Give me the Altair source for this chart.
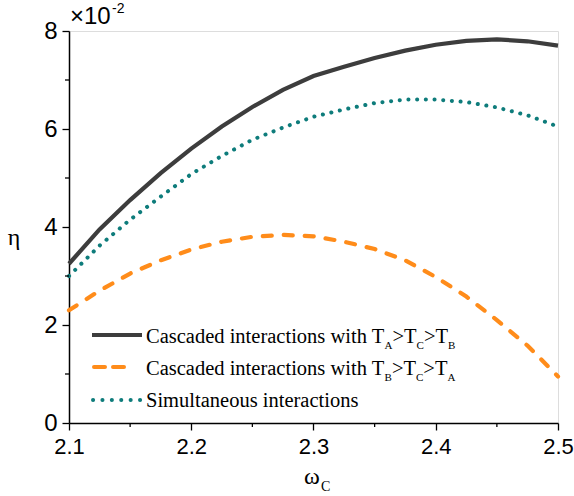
import altair as alt
import pandas as pd

# ---------------- data ----------------
omega = [2.100, 2.125, 2.150, 2.175, 2.200, 2.225, 2.250, 2.275, 2.300,
         2.325, 2.350, 2.375, 2.400, 2.425, 2.450, 2.475, 2.500]
# eta values in units of 1e-2
eta_cascade_ACB = [3.25, 3.95, 4.55, 5.10, 5.60, 6.05, 6.45, 6.80, 7.08,
                   7.27, 7.45, 7.60, 7.72, 7.80, 7.83, 7.79, 7.70]
eta_cascade_BCA = [2.30, 2.70, 3.05, 3.32, 3.54, 3.70, 3.80, 3.84, 3.81,
                   3.70, 3.55, 3.32, 2.98, 2.58, 2.10, 1.58, 0.95]
eta_simultaneous = [3.00, 3.62, 4.15, 4.62, 5.08, 5.45, 5.78, 6.03, 6.25,
                    6.40, 6.53, 6.60, 6.60, 6.55, 6.44, 6.28, 6.05]

x_major = [2.1, 2.2, 2.3, 2.4, 2.5]
x_minor = [2.15, 2.25, 2.35, 2.45]
y_major = [0, 2, 4, 6, 8]
y_minor = [1, 3, 5, 7]

legend_rows = [
    [("Cascaded interactions with T", "main"), ("A", "sub"), (">T", "main"),
     ("C", "sub"), (">T", "main"), ("B", "sub")],
    [("Cascaded interactions with T", "main"), ("B", "sub"), (">T", "main"),
     ("C", "sub"), (">T", "main"), ("A", "sub")],
    [("Simultaneous interactions", "main")],
]
x_title = ("\u03c9", "C")
y_title = "\u03b7"
scale_main, scale_sup = "\u00d710", "-2"

# ---------------- styling ----------------
W, H = 489, 392
C_SOLID, C_DASH, C_DOT = "#3d3d3d", "#ff8c1a", "#0e7c7b"
SANS = "Liberation Sans"
SERIF = "Liberation Serif"

df = pd.DataFrame({"omega": omega, "acb": eta_cascade_ACB,
                   "bca": eta_cascade_BCA, "sim": eta_simultaneous})

xscale = alt.Scale(domain=[2.1, 2.5], nice=False, zero=False)
yscale = alt.Scale(domain=[0, 8], nice=False, zero=False)

xaxis = alt.Axis(
    title=None, values=x_major, format=".1f", tickSize=7,
    labelPadding=6, labelFont=SANS, labelFontSize=22, labelColor="black",
    tickColor="black", tickWidth=1.3, domainColor="black", domainWidth=1.5,
    grid=False, labelFlush=False, labelOverlap=False,
)
yaxis = alt.Axis(
    title=None, values=y_major, format="d", tickSize=7,
    labelPadding=5, labelFont=SANS, labelFontSize=24, labelColor="black",
    tickColor="black", tickWidth=1.3, domainColor="black", domainWidth=1.5,
    grid=False, labelFlush=False, labelOverlap=False,
)

base = alt.Chart(df)
X = alt.X("omega:Q", scale=xscale, axis=xaxis)

line_acb = base.mark_line(color=C_SOLID, strokeWidth=4.2).encode(
    x=X, y=alt.Y("acb:Q", scale=yscale, axis=yaxis))
line_bca = base.mark_line(color=C_DASH, strokeWidth=4.2, strokeDash=[9, 12],
                          strokeCap="round").encode(
    x=X, y=alt.Y("bca:Q", scale=yscale, axis=yaxis))
line_sim = base.mark_line(color=C_DOT, strokeWidth=4, strokeDash=[0.1, 8.6],
                          strokeCap="round").encode(
    x=X, y=alt.Y("sim:Q", scale=yscale, axis=yaxis))

# minor ticks through the scales
xminor = alt.Chart(pd.DataFrame({"v": x_minor})).mark_rule(
    color="black", strokeWidth=1.3).encode(
    x=alt.X("v:Q", scale=xscale, axis=xaxis), y=alt.value(H), y2=alt.value(H + 4))
yminor = alt.Chart(pd.DataFrame({"v": y_minor})).mark_rule(
    color="black", strokeWidth=1.3).encode(
    y=alt.Y("v:Q", scale=yscale, axis=yaxis), x=alt.value(0), x2=alt.value(-4))

one = alt.Data(values=[{}])


def txt(text, x, y, size, font, align="left", baseline="alphabetic"):
    return alt.Chart(one).mark_text(
        text=text, font=font, fontSize=size, align=align, baseline=baseline,
        color="black").encode(x=alt.value(x), y=alt.value(y))


def rule(x1, x2, y, color, **kw):
    return alt.Chart(one).mark_rule(color=color, strokeWidth=4, **kw).encode(
        x=alt.value(x1), x2=alt.value(x2), y=alt.value(y))


# Times/Liberation Serif advance widths (per 1000 em)
ADV = {"C": 667, "a": 444, "s": 389, "c": 444, "d": 500, "e": 444, " ": 250,
       "i": 278, "n": 500, "t": 278, "r": 333, "o": 500, "w": 722, "h": 500,
       "T": 611, ">": 564, "A": 722, "B": 667, "S": 556, "m": 778, "u": 500,
       "l": 278}
MAIN, SUB = 20.5, 11


def width(s, size):
    return sum(ADV.get(ch, 500) for ch in s) * size / 1000.0


layers = [line_acb, line_bca, line_sim, xminor, yminor]

# legend samples
sample_y = [304, 336, 369]
layers.append(rule(23, 73, sample_y[0], C_SOLID))
layers.append(rule(25, 55, sample_y[1], C_DASH, strokeDash=[11, 8], strokeCap="round"))
layers.append(rule(24, 71.5, sample_y[2], C_DOT, strokeDash=[0.1, 9.3], strokeCap="round"))

# legend texts
row_base = [311.7, 344, 376]
for row, yb in zip(legend_rows, row_base):
    xc = 77
    for s, kind in row:
        if kind == "main":
            layers.append(txt(s, xc, yb, MAIN, SERIF))
            xc += width(s, MAIN)
        else:
            layers.append(txt(s, xc, yb + 6.3, SUB, SERIF))
            xc += width(s, SUB)

# axis titles
layers.append(txt(x_title[0], 235, 453, 24, SERIF))
layers.append(txt(x_title[1], 252, 460, 14, SERIF))
layers.append(txt(y_title, -55, 207, 24, SERIF, align="center", baseline="middle"))

# scale factor
layers.append(txt(scale_main, 1, -7, 24, SANS))
layers.append(txt(scale_sup, 43, -18, 14, SANS))

chart = alt.layer(*layers).properties(
    width=W, height=H, autosize="none",
    padding={"left": 69, "top": 31, "right": 16, "bottom": 73},
).configure_view(stroke="black", strokeWidth=1.5).configure(background="white")

chart.save("out.html", embed_options={"renderer": "svg", "actions": False})
